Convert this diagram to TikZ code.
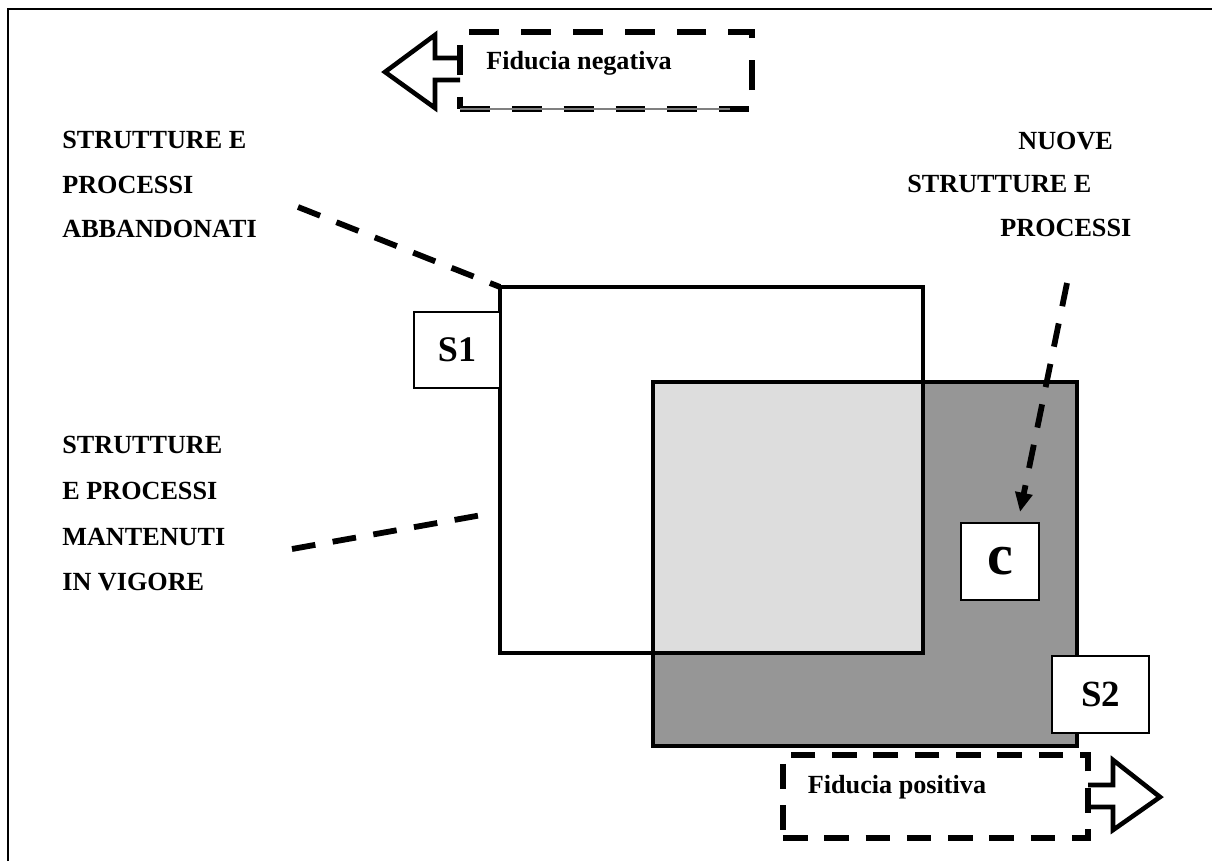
\documentclass[tikz,border=0pt]{standalone}
\usepackage{fontspec}
\setmainfont{Liberation Serif}
\usetikzlibrary{arrows.meta,fit}

\begin{document}
\begin{tikzpicture}[x=0.02cm,y=-0.02cm,
  lbl/.style={font=\fontsize{14.9}{17}\selectfont\bfseries, anchor=west, inner sep=0},
  fid/.style={font=\fontsize{14.9}{17}\selectfont\bfseries, anchor=base, inner sep=0},
  region/.style={inner sep=0, outer sep=0},
  regionline/.style={line width=2pt},
  tagbox/.style={draw, fill=white, line width=0.9pt, inner sep=0, outer sep=0, font=\bfseries},
  leader/.style={line width=3.3pt, dash pattern=on 13.5pt off 10pt},
  fidbox/.style={draw, line width=3.3pt, inner sep=0, outer sep=0},
  blockarrow/.style={line width=2.6pt, line join=miter}
]
\useasboundingbox (0,0) rectangle (1212,861);

% outer frame (top and left sides)
\draw[line width=1.7pt] (8,861) -- (8,9) -- (1212,9);

% the two regions S1 and S2 with their overlap
\node[region, fit={(653,382) (1077,746)}] (s2) {};
\node[region, fit={(500,287) (923,653)}] (s1) {};
\fill[fill={rgb,255:red,150;green,150;blue,150}] (s2.north west) rectangle (s2.south east);
\fill[white] (s1.north west) rectangle (s1.south east);
\fill[fill={rgb,255:red,221;green,221;blue,221}] (s2.north west) rectangle (s1.south east);
\draw[regionline] (s1.north west) rectangle (s1.south east);
\draw[regionline] (s2.north west) rectangle (s2.south east);

% tags
\node[tagbox, minimum width=1.72cm, minimum height=1.52cm, font=\fontsize{20.5}{22}\selectfont\bfseries] (tagS1) at (457,350) {S1};
\node[tagbox, minimum width=1.56cm, minimum height=1.54cm, font=\fontsize{33}{34}\selectfont\bfseries] (tagC) at (1000,561.5) {c};
\node[tagbox, minimum width=1.94cm, minimum height=1.54cm, font=\fontsize{21}{22}\selectfont\bfseries] (tagS2) at (1100.5,694.5) {S2};

% side captions
\node[lbl] (ab1) at (62,140) {STRUTTURE E};
\node[lbl] (ab2) at (62,185) {PROCESSI};
\node[lbl] (ab3) at (62,229) {ABBANDONATI};

\node[lbl] (nu1) at (1018,141) {NUOVE};
\node[lbl] (nu2) at (907,184) {STRUTTURE E};
\node[lbl] (nu3) at (1000,228) {PROCESSI};

\node[lbl] (mv1) at (62,445) {STRUTTURE};
\node[lbl] (mv2) at (62,491) {E PROCESSI};
\node[lbl] (mv3) at (62,537) {MANTENUTI};
\node[lbl] (mv4) at (62,582) {IN VIGORE};

% leader lines
\coordinate (abStart) at (298,207);
\coordinate (mvStart) at (292,549);
\coordinate (mvEnd) at (493,513);
\coordinate (nuStart) at (1067,283);
\coordinate (cTip) at (1020,512);
\draw[leader] (abStart) -- (s1.north west);
\draw[leader] (mvStart) -- (mvEnd);
\draw[leader, -{Triangle[length=11pt, width=9.5pt]}] (nuStart) -- (cTip);

% negative trust
\node[fidbox, dash pattern=on 17pt off 12.5pt, fit={(460,32) (752,109)}] (neg) {};
\draw[gray, line width=0.6pt] (460,109) -- (730,109);
\node[fid] (negT) at (579,70) {Fiducia negativa};
\draw[blockarrow] (neg.west |- 0,58) -- (435,58) -- (435,35) -- (385,72)
  -- (435,108) -- (435,80) -- (neg.west |- 0,80);

% positive trust
\node[fidbox, dash pattern=on 14pt off 9.5pt, fit={(783,755) (1088,838)}] (pos) {};
\node[fid] (posT) at (897,793) {Fiducia positiva};
\draw[blockarrow] (pos.east |- 0,785) -- (1113,785) -- (1113,760) -- (1160,797)
  -- (1113,830) -- (1113,807) -- (pos.east |- 0,807);
\end{tikzpicture}
\end{document}
